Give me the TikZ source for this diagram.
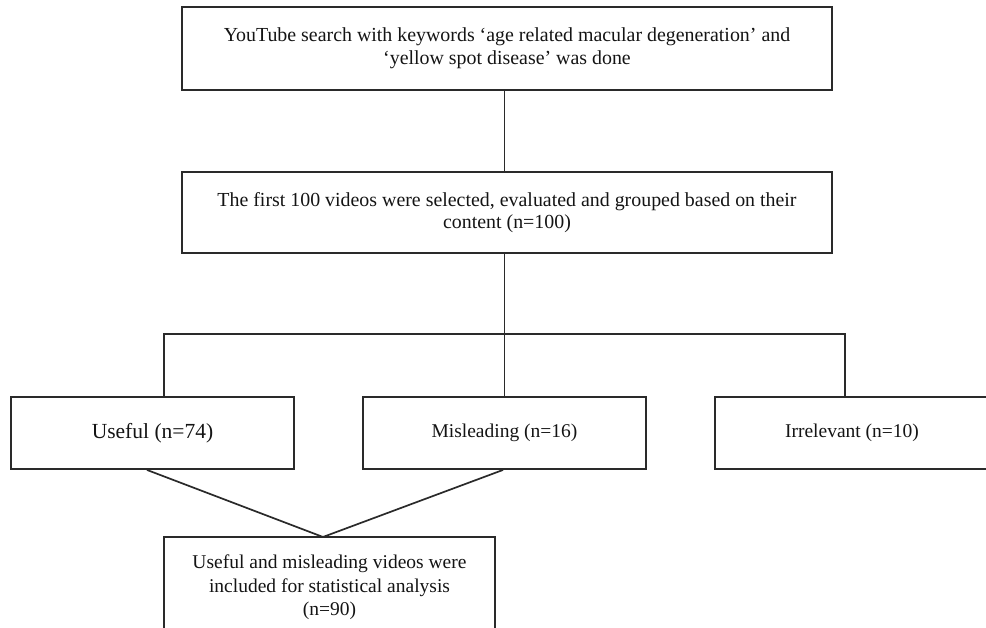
\documentclass[tikz,border=0pt]{standalone}
\usepackage{fontspec}
\setmainfont{Liberation Serif}
\definecolor{ln}{HTML}{2A2A2A}
\definecolor{tx}{HTML}{141414}
\begin{document}
\begin{tikzpicture}[x=1pt,y=1pt,
  box/.style={draw=ln,line width=1.9pt,rectangle,inner sep=0pt,text=tx,align=center,
    font=\fontsize{19.5}{23}\selectfont},
  conn/.style={draw=ln,line width=1.7pt}]
\useasboundingbox (0,0) rectangle (986,628);
\clip (0,0) rectangle (986,628);
\node[box,minimum width=650,minimum height=83,font=\fontsize{19.9}{23}\selectfont] (top) at (507,579.5)
  {YouTube search with keywords ‘age related macular degeneration’ and\\‘yellow spot disease’ was done};
\node[box,minimum width=650,minimum height=81,font=\fontsize{19.9}{22.5}\selectfont] (mid) at (507,415.5)
  {The first 100 videos were selected, evaluated and grouped based on their\\content (n=100)};
\node[box,minimum width=283,minimum height=72,font=\fontsize{21.5}{25}\selectfont] (useful) at (152.5,195) {Useful (n=74)};
\node[box,minimum width=283,minimum height=72] (mis) at (504.5,195) {Misleading (n=16)};
\node[box,minimum width=274,minimum height=72] (irr) at (852,195) {Irrelevant (n=10)};
\node[box,minimum width=331,minimum height=130] (fin) at (329.5,26) {};
\node[text=tx,align=center,inner sep=0pt,font=\fontsize{19.5}{23.5}\selectfont] (fint) at (329.5,40.5)
  {Useful and misleading videos were\\included for statistical analysis\\(n=90)};
\coordinate (uL) at (164,294);
\coordinate (uR) at (845,294);
\coordinate (meet) at (323,91);
\draw[conn] (top.south -| mis.north) -- (mid.north -| mis.north);
\draw[conn] (mid.south -| mis.north) -- (mis.north);
\draw[conn] (useful.north -| uL) -- (uL) -- (uR) -- (irr.north -| uR);
\draw[conn] ([xshift=-5.5pt]useful.south) -- (meet);
\draw[conn] ([xshift=-1.5pt]mis.south) -- (meet);
\end{tikzpicture}
\end{document}
